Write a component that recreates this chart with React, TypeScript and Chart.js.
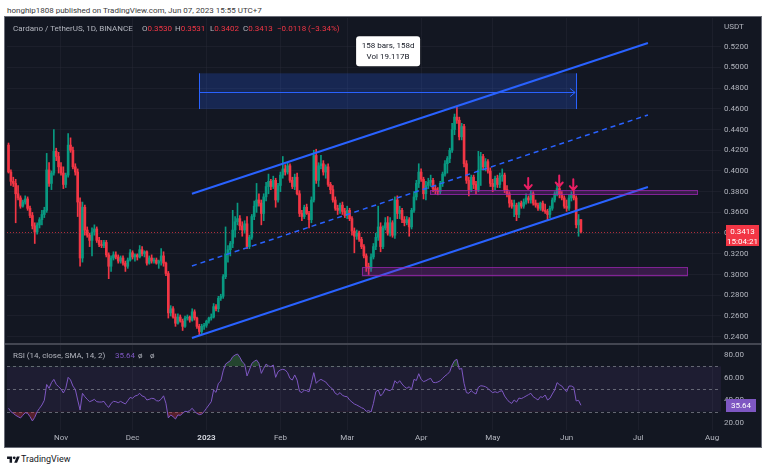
import React, { useEffect, useRef } from 'react';
import { Chart, registerables } from 'chart.js';

Chart.register(...registerables);

// Day numbers count from 2022-10-01 (= day 0). First candle: 2022-10-10 (day 9), last: 2023-06-07 (day 249).
const FIRST_DAY = 9;

const OPEN = [
  0.425, 0.399, 0.390, 0.388, 0.378, 0.374, 0.366, 0.370, 0.373, 0.364,
  0.357, 0.347, 0.341, 0.348, 0.353, 0.358, 0.362, 0.401, 0.388, 0.398,
  0.419, 0.414, 0.404, 0.398, 0.387, 0.396, 0.425, 0.420, 0.404, 0.399,
  0.370, 0.316, 0.365, 0.343, 0.338, 0.333, 0.341, 0.344, 0.333, 0.329,
  0.328, 0.331, 0.319, 0.308, 0.316, 0.319, 0.317, 0.313, 0.316, 0.311,
  0.308, 0.314, 0.321, 0.317, 0.319, 0.317, 0.324, 0.320, 0.322, 0.311,
  0.316, 0.313, 0.314, 0.311, 0.313, 0.318, 0.311, 0.301, 0.263, 0.267,
  0.259, 0.253, 0.259, 0.255, 0.250, 0.258, 0.259, 0.256, 0.264, 0.258,
  0.250, 0.245, 0.250, 0.251, 0.255, 0.258, 0.259, 0.269, 0.267, 0.277,
  0.279, 0.298, 0.320, 0.324, 0.330, 0.343, 0.351, 0.354, 0.347, 0.343,
  0.349, 0.327, 0.336, 0.356, 0.366, 0.372, 0.369, 0.359, 0.375, 0.385,
  0.390, 0.385, 0.391, 0.372, 0.386, 0.396, 0.402, 0.399, 0.405, 0.391,
  0.385, 0.394, 0.378, 0.359, 0.356, 0.365, 0.359, 0.353, 0.372, 0.415,
  0.391, 0.405, 0.407, 0.399, 0.404, 0.387, 0.382, 0.372, 0.364, 0.362,
  0.367, 0.361, 0.357, 0.362, 0.354, 0.342, 0.337, 0.340, 0.334, 0.327,
  0.318, 0.308, 0.306, 0.317, 0.327, 0.336, 0.346, 0.327, 0.345, 0.350,
  0.340, 0.350, 0.338, 0.372, 0.359, 0.362, 0.353, 0.350, 0.353, 0.346,
  0.362, 0.375, 0.388, 0.399, 0.392, 0.378, 0.386, 0.389, 0.391, 0.383,
  0.381, 0.380, 0.388, 0.397, 0.407, 0.412, 0.420, 0.440, 0.452, 0.449,
  0.433, 0.443, 0.407, 0.391, 0.382, 0.394, 0.387, 0.382, 0.401, 0.414,
  0.404, 0.409, 0.400, 0.388, 0.385, 0.393, 0.387, 0.395, 0.396, 0.382,
  0.378, 0.369, 0.366, 0.367, 0.358, 0.369, 0.366, 0.370, 0.374, 0.372,
  0.378, 0.369, 0.367, 0.364, 0.369, 0.362, 0.361, 0.358, 0.364, 0.372,
  0.378, 0.383, 0.377, 0.374, 0.366, 0.364, 0.374, 0.377, 0.374, 0.348, 0.3530,
];

const HIGH = [
  0.427, 0.401, 0.394, 0.392, 0.386, 0.376, 0.372, 0.376, 0.375, 0.366,
  0.360, 0.350, 0.350, 0.355, 0.362, 0.365, 0.417, 0.408, 0.400, 0.440,
  0.422, 0.418, 0.408, 0.404, 0.398, 0.436, 0.432, 0.423, 0.407, 0.402,
  0.374, 0.370, 0.367, 0.346, 0.340, 0.345, 0.348, 0.346, 0.336, 0.333,
  0.333, 0.333, 0.321, 0.318, 0.322, 0.322, 0.319, 0.318, 0.318, 0.313,
  0.316, 0.324, 0.323, 0.320, 0.320, 0.328, 0.327, 0.323, 0.323, 0.318,
  0.319, 0.316, 0.316, 0.314, 0.325, 0.322, 0.312, 0.303, 0.270, 0.269,
  0.262, 0.262, 0.261, 0.257, 0.260, 0.261, 0.260, 0.267, 0.266, 0.259,
  0.252, 0.252, 0.253, 0.256, 0.259, 0.262, 0.272, 0.271, 0.279, 0.281,
  0.300, 0.346, 0.328, 0.332, 0.362, 0.356, 0.369, 0.357, 0.351, 0.352,
  0.356, 0.338, 0.358, 0.371, 0.388, 0.378, 0.372, 0.378, 0.389, 0.397,
  0.392, 0.395, 0.393, 0.388, 0.399, 0.414, 0.406, 0.408, 0.407, 0.394,
  0.397, 0.398, 0.381, 0.362, 0.367, 0.368, 0.361, 0.375, 0.420, 0.421,
  0.408, 0.415, 0.410, 0.406, 0.407, 0.389, 0.386, 0.375, 0.367, 0.369,
  0.370, 0.364, 0.366, 0.364, 0.356, 0.345, 0.343, 0.342, 0.336, 0.329,
  0.320, 0.311, 0.320, 0.330, 0.340, 0.366, 0.350, 0.347, 0.355, 0.356,
  0.355, 0.352, 0.375, 0.376, 0.366, 0.364, 0.356, 0.356, 0.355, 0.364,
  0.380, 0.391, 0.407, 0.402, 0.394, 0.390, 0.393, 0.396, 0.393, 0.386,
  0.384, 0.390, 0.399, 0.410, 0.414, 0.422, 0.446, 0.455, 0.462, 0.452,
  0.446, 0.445, 0.410, 0.394, 0.396, 0.396, 0.390, 0.419, 0.418, 0.416,
  0.412, 0.411, 0.403, 0.392, 0.395, 0.396, 0.398, 0.402, 0.398, 0.386,
  0.380, 0.372, 0.372, 0.369, 0.370, 0.371, 0.373, 0.378, 0.376, 0.381,
  0.380, 0.372, 0.369, 0.370, 0.371, 0.368, 0.363, 0.366, 0.374, 0.380,
  0.388, 0.386, 0.380, 0.376, 0.372, 0.377, 0.380, 0.381, 0.376, 0.358, 0.3531,
];

const LOW = [
  0.398, 0.386, 0.385, 0.350, 0.372, 0.364, 0.365, 0.368, 0.362, 0.355,
  0.344, 0.330, 0.339, 0.345, 0.348, 0.355, 0.360, 0.385, 0.382, 0.396,
  0.410, 0.398, 0.396, 0.383, 0.384, 0.394, 0.418, 0.402, 0.396, 0.356,
  0.308, 0.312, 0.338, 0.336, 0.327, 0.318, 0.338, 0.331, 0.327, 0.326,
  0.326, 0.317, 0.296, 0.303, 0.314, 0.315, 0.311, 0.311, 0.309, 0.303,
  0.306, 0.313, 0.315, 0.313, 0.314, 0.316, 0.318, 0.317, 0.309, 0.310,
  0.311, 0.311, 0.310, 0.306, 0.309, 0.308, 0.299, 0.258, 0.260, 0.258,
  0.250, 0.252, 0.254, 0.246, 0.249, 0.256, 0.254, 0.255, 0.256, 0.248,
  0.241, 0.243, 0.247, 0.249, 0.253, 0.256, 0.258, 0.265, 0.264, 0.275,
  0.277, 0.296, 0.312, 0.318, 0.326, 0.336, 0.348, 0.343, 0.337, 0.340,
  0.325, 0.325, 0.334, 0.353, 0.360, 0.366, 0.348, 0.352, 0.371, 0.378,
  0.382, 0.383, 0.365, 0.370, 0.380, 0.393, 0.396, 0.397, 0.389, 0.383,
  0.382, 0.377, 0.356, 0.352, 0.354, 0.358, 0.345, 0.350, 0.370, 0.388,
  0.385, 0.402, 0.396, 0.393, 0.385, 0.378, 0.370, 0.362, 0.358, 0.359,
  0.358, 0.355, 0.354, 0.352, 0.338, 0.321, 0.334, 0.332, 0.325, 0.316,
  0.303, 0.300, 0.303, 0.315, 0.324, 0.333, 0.322, 0.325, 0.343, 0.338,
  0.337, 0.336, 0.335, 0.354, 0.354, 0.350, 0.347, 0.348, 0.337, 0.344,
  0.360, 0.372, 0.384, 0.390, 0.373, 0.372, 0.383, 0.385, 0.380, 0.378,
  0.377, 0.378, 0.385, 0.395, 0.398, 0.408, 0.418, 0.435, 0.446, 0.430,
  0.430, 0.404, 0.388, 0.376, 0.380, 0.383, 0.378, 0.380, 0.386, 0.401,
  0.400, 0.398, 0.385, 0.380, 0.382, 0.384, 0.384, 0.390, 0.379, 0.375,
  0.365, 0.364, 0.356, 0.352, 0.355, 0.364, 0.364, 0.368, 0.369, 0.369,
  0.367, 0.365, 0.362, 0.362, 0.361, 0.359, 0.353, 0.355, 0.362, 0.370,
  0.376, 0.374, 0.372, 0.364, 0.361, 0.362, 0.371, 0.372, 0.345, 0.337, 0.3402,
];

const CLOSE = [
  0.399, 0.390, 0.388, 0.378, 0.374, 0.366, 0.370, 0.373, 0.364, 0.357,
  0.347, 0.341, 0.348, 0.353, 0.358, 0.362, 0.401, 0.388, 0.398, 0.419,
  0.414, 0.404, 0.398, 0.387, 0.396, 0.425, 0.420, 0.404, 0.399, 0.370,
  0.316, 0.365, 0.343, 0.338, 0.333, 0.341, 0.344, 0.333, 0.329, 0.328,
  0.331, 0.319, 0.308, 0.316, 0.319, 0.317, 0.313, 0.316, 0.311, 0.308,
  0.314, 0.321, 0.317, 0.319, 0.317, 0.324, 0.320, 0.322, 0.311, 0.316,
  0.313, 0.314, 0.311, 0.313, 0.318, 0.311, 0.301, 0.263, 0.267, 0.259,
  0.253, 0.259, 0.255, 0.250, 0.258, 0.259, 0.256, 0.264, 0.258, 0.250,
  0.245, 0.250, 0.251, 0.255, 0.258, 0.259, 0.269, 0.267, 0.277, 0.279,
  0.298, 0.320, 0.324, 0.330, 0.343, 0.351, 0.354, 0.347, 0.343, 0.349,
  0.327, 0.336, 0.356, 0.366, 0.372, 0.369, 0.359, 0.375, 0.385, 0.390,
  0.385, 0.391, 0.372, 0.386, 0.396, 0.402, 0.399, 0.405, 0.391, 0.385,
  0.394, 0.378, 0.359, 0.356, 0.365, 0.359, 0.353, 0.372, 0.415, 0.391,
  0.405, 0.407, 0.399, 0.404, 0.387, 0.382, 0.372, 0.364, 0.362, 0.367,
  0.361, 0.357, 0.362, 0.354, 0.342, 0.337, 0.340, 0.334, 0.327, 0.318,
  0.308, 0.306, 0.317, 0.327, 0.336, 0.346, 0.327, 0.345, 0.350, 0.340,
  0.350, 0.338, 0.372, 0.359, 0.362, 0.353, 0.350, 0.353, 0.346, 0.362,
  0.375, 0.388, 0.399, 0.392, 0.378, 0.386, 0.389, 0.391, 0.383, 0.381,
  0.380, 0.388, 0.397, 0.407, 0.412, 0.420, 0.440, 0.452, 0.449, 0.433,
  0.443, 0.407, 0.391, 0.382, 0.394, 0.387, 0.382, 0.401, 0.414, 0.404,
  0.409, 0.400, 0.388, 0.385, 0.393, 0.387, 0.395, 0.396, 0.382, 0.378,
  0.369, 0.366, 0.367, 0.358, 0.369, 0.366, 0.370, 0.374, 0.372, 0.378,
  0.369, 0.367, 0.364, 0.369, 0.362, 0.361, 0.358, 0.364, 0.372, 0.378,
  0.383, 0.377, 0.374, 0.366, 0.364, 0.374, 0.377, 0.374, 0.348, 0.353, 0.3413,
];

const RSI = [
  33, 30, 28.5, 26.8, 25.6, 24.4, 26.8, 29.1, 28.5, 25.6,
  21.8, 25, 30, 33, 35.9, 40, 54, 50.6, 55.6, 58.5,
  54.1, 52, 50, 46.5, 50.6, 60.3, 58, 52.6, 49.7, 40.3,
  31.5, 46.2, 43.2, 40.9, 38.8, 39.7, 40.9, 38.8, 38.5, 38.5,
  39.1, 35.9, 33.8, 37.3, 39.1, 38.8, 37.9, 39.1, 37.9, 36.8,
  39.7, 42.6, 41.8, 43.8, 44.4, 46.2, 43.8, 43.2, 40.3, 40.9,
  41.8, 41.5, 39.7, 39.4, 41, 44, 37.4, 24.5, 27.1, 25.6,
  23.5, 27.1, 26.8, 28.5, 30.3, 30, 30.9, 33, 30.3, 28.5,
  27.4, 27.9, 30, 33, 35.9, 38.8, 49.1, 47, 55, 57,
  66, 72, 73.5, 75, 78.5, 80, 80.9, 78, 74, 72,
  61.5, 66.8, 72.6, 74.4, 75.6, 72.6, 63.8, 68.2, 72, 70.3,
  69.7, 71.2, 60.3, 65.3, 66.8, 67.4, 66.8, 64.4, 59.4, 57.9,
  62.4, 57.9, 48, 46.8, 49.1, 48.5, 47.5, 55.6, 64.4, 55,
  57.3, 58.5, 57.3, 56.2, 53.5, 51.5, 49.7, 46.2, 45, 46.8,
  44.4, 43.5, 43.2, 40.3, 38.5, 36.8, 35.9, 34.7, 33.5, 32.6,
  30.3, 30.9, 29.7, 37.3, 47.6, 49.1, 43.8, 46.2, 50.3, 49.1,
  48.5, 50.6, 57.3, 55, 57.3, 54.4, 52, 50.6, 52, 49.7,
  58.5, 57.5, 63.5, 58.5, 56.5, 57.3, 58.5, 59.4, 55.9, 55.6,
  56.2, 57.3, 59.4, 61.5, 63, 65.3, 71.2, 75, 76.2, 67.4,
  68.2, 55, 46.8, 46.2, 48.5, 46.8, 45.6, 51.5, 52.9, 52.6,
  52, 50.6, 48.5, 46.8, 47.6, 46.8, 48, 48.5, 43.8, 40.9,
  38.5, 37.3, 40.3, 38.5, 42, 41.5, 42.6, 43.8, 45, 46.2,
  43.2, 41.8, 40.3, 43.2, 42.6, 44.7, 40.3, 41.8, 45.6, 49.1,
  55.6, 53.8, 52.6, 49.7, 47.6, 52.6, 52.6, 51.5, 39.5, 40, 35.64,
];

const MONTH_DAYS = [31, 61, 92, 123, 151, 182, 212, 243, 273, 304];
const MONTH_LABELS = ['Nov', 'Dec', '2023', 'Feb', 'Mar', 'Apr', 'May', 'Jun', 'Jul', 'Aug'];
const PRICE_TICKS = [0.24, 0.26, 0.28, 0.30, 0.32, 0.34, 0.36, 0.38, 0.40, 0.42, 0.44, 0.46, 0.48, 0.50, 0.52];
const RSI_TICKS = [20, 40, 60, 80];

// Drawings (day, price)
const CHANNEL_DAYS = [85.9, 277.1];
const CHANNEL_UPPER = [0.378, 0.5236];
const CHANNEL_MIDDLE = [0.3083, 0.4541];
const CHANNEL_LOWER = [0.2387, 0.3845];

const ZONE_UPPER_DAYS = [185.7, 298.1];
const ZONE_UPPER_PRICES = [0.3816, 0.3768];
const ZONE_LOWER_DAYS = [157.1, 293.9];
const ZONE_LOWER_PRICES = [0.3070, 0.2979];

const RANGE_DAYS = [88.9, 247.4];
const RANGE_PRICES = [0.4943, 0.4598];
const RANGE_ARROW_PRICE = 0.4765;
const RANGE_LABEL = ['158 bars, 158d', 'Vol 19.117B'];

const ARROW_DAYS = [226.9, 239.9, 245.8];
const ARROW_TIPS = [0.3825, 0.3850, 0.3815];

const LAST_PRICE = 0.3413;
const LAST_TIMER = '15:04:21';
const LAST_RSI = 35.64;

const X_RANGE = [8.36, 307.73];
const PRICE_RANGE = [0.23295, 0.54771];
const RSI_RANGE = [13.83, 89.71];

const UP = '#089981';
const DOWN = '#f23645';
const BLUE = '#2962ff';
const PURPLE = '#7e57c2';
const TEXT = '#b2b5be';
const FONT = 'Roboto, sans-serif';

const tvPlugin: any = {
  id: 'tvDrawings',
  beforeDatasetsDraw(chart: any) {
    const { ctx, chartArea: a } = chart;
    const ys = chart.scales.y;
    const rs = chart.scales.rsi;
    ctx.save();
    const y70 = rs.getPixelForValue(70);
    const y30 = rs.getPixelForValue(30);
    ctx.fillStyle = 'rgba(126,87,194,0.1)';
    ctx.fillRect(a.left, y70, a.right - a.left, y30 - y70);
    ctx.strokeStyle = 'rgba(120,123,134,0.8)';
    ctx.lineWidth = 1;
    ctx.setLineDash([3, 3]);
    [70, 50, 30].forEach((v) => {
      const y = Math.round(rs.getPixelForValue(v)) + 0.5;
      ctx.beginPath();
      ctx.moveTo(a.left, y);
      ctx.lineTo(a.right, y);
      ctx.stroke();
    });
    const py = Math.round(ys.getPixelForValue(LAST_PRICE)) + 0.5;
    ctx.strokeStyle = 'rgba(242,54,69,0.7)';
    ctx.setLineDash([1, 2]);
    ctx.beginPath();
    ctx.moveTo(a.left, py);
    ctx.lineTo(a.right, py);
    ctx.stroke();
    ctx.restore();
  },
  afterDatasetsDraw(chart: any) {
    const { ctx, chartArea: a } = chart;
    const xs = chart.scales.x;
    const ys = chart.scales.y;
    ctx.save();
    ctx.beginPath();
    ctx.rect(a.left, a.top, a.right - a.left, ys.bottom - a.top);
    ctx.clip();

    const zone = (days: number[], prices: number[]) => {
      const x0 = xs.getPixelForValue(days[0]);
      const x1 = xs.getPixelForValue(days[1]);
      const y0 = ys.getPixelForValue(prices[0]);
      const y1 = ys.getPixelForValue(prices[1]);
      ctx.fillStyle = 'rgba(156,39,176,0.28)';
      ctx.fillRect(x0, y0, x1 - x0, y1 - y0);
      ctx.strokeStyle = 'rgba(156,39,176,0.75)';
      ctx.lineWidth = 1;
      ctx.strokeRect(Math.round(x0) + 0.5, Math.round(y0) + 0.5, Math.round(x1 - x0) - 1, Math.round(y1 - y0) - 1);
    };
    zone(ZONE_UPPER_DAYS, ZONE_UPPER_PRICES);
    zone(ZONE_LOWER_DAYS, ZONE_LOWER_PRICES);

    // date range tool
    const rx0 = xs.getPixelForValue(RANGE_DAYS[0]);
    const rx1 = xs.getPixelForValue(RANGE_DAYS[1]);
    const ry0 = ys.getPixelForValue(RANGE_PRICES[0]);
    const ry1 = ys.getPixelForValue(RANGE_PRICES[1]);
    const ray = Math.round(ys.getPixelForValue(RANGE_ARROW_PRICE)) + 0.5;
    ctx.fillStyle = 'rgba(41,98,255,0.22)';
    ctx.fillRect(rx0, ry0, rx1 - rx0, ry1 - ry0);
    ctx.strokeStyle = BLUE;
    ctx.lineWidth = 1;
    ctx.beginPath();
    ctx.moveTo(Math.round(rx0) + 0.5, ry0);
    ctx.lineTo(Math.round(rx0) + 0.5, ry1);
    ctx.moveTo(Math.round(rx1) - 0.5, ry0);
    ctx.lineTo(Math.round(rx1) - 0.5, ry1);
    ctx.moveTo(rx0, ray);
    ctx.lineTo(rx1 - 2, ray);
    ctx.moveTo(rx1 - 7, ray - 4);
    ctx.lineTo(rx1 - 2, ray);
    ctx.lineTo(rx1 - 7, ray + 4);
    ctx.stroke();

    // label of date range
    const cx = (rx0 + rx1) / 2;
    const bw = 64;
    const bh = 30;
    const bx = cx - bw / 2;
    const by = ry0 - 7 - bh;
    ctx.shadowColor = 'rgba(0,0,0,0.3)';
    ctx.shadowBlur = 3;
    ctx.fillStyle = '#ffffff';
    ctx.beginPath();
    ctx.roundRect(bx, by, bw, bh, 3);
    ctx.fill();
    ctx.shadowBlur = 0;
    ctx.fillStyle = '#131722';
    ctx.font = '8px ' + FONT;
    ctx.textAlign = 'center';
    ctx.textBaseline = 'middle';
    ctx.fillText(RANGE_LABEL[0], cx, by + 9.5);
    ctx.fillText(RANGE_LABEL[1], cx, by + 21);

    // arrow markers
    ctx.strokeStyle = '#e91e63';
    ctx.lineWidth = 2;
    ctx.lineCap = 'round';
    ctx.lineJoin = 'round';
    ARROW_DAYS.forEach((d, i) => {
      const x = xs.getPixelForValue(d);
      const tip = ys.getPixelForValue(ARROW_TIPS[i]);
      ctx.beginPath();
      ctx.moveTo(x, tip - 11);
      ctx.lineTo(x, tip);
      ctx.moveTo(x - 3.5, tip - 4);
      ctx.lineTo(x, tip);
      ctx.lineTo(x + 3.5, tip - 4);
      ctx.stroke();
    });
    ctx.restore();
  },
  afterDraw(chart: any) {
    const { ctx } = chart;
    const ys = chart.scales.y;
    const rs = chart.scales.rsi;
    ctx.save();
    ctx.fillStyle = '#434651';
    ctx.fillRect(0, Math.round(rs.top) - 1, chart.width, 2);

    const left = ys.left + 5;
    const py = ys.getPixelForValue(LAST_PRICE);
    ctx.fillStyle = DOWN;
    ctx.fillRect(left, Math.round(py - 6.5), chart.width - 2 - left, 21);
    ctx.fillStyle = '#ffffff';
    ctx.font = '8px ' + FONT;
    ctx.textAlign = 'center';
    ctx.textBaseline = 'middle';
    const cx = (left + chart.width - 2) / 2;
    ctx.fillText(LAST_PRICE.toFixed(4), cx, py + 0.5);
    ctx.fillText(LAST_TIMER, cx, py + 10);

    const ry = rs.getPixelForValue(LAST_RSI);
    ctx.fillStyle = PURPLE;
    ctx.fillRect(left, Math.round(ry - 6.5), 30, 13);
    ctx.fillStyle = '#ffffff';
    ctx.fillText(LAST_RSI.toFixed(2), left + 15, ry + 0.5);
    ctx.restore();
  },
};

function buildConfig(): any {
  const days = OPEN.map((_, i) => FIRST_DAY + i);
  const colors = OPEN.map((o, i) => (CLOSE[i] >= o ? UP : DOWN));
  const line = (vals: number[], dash: number[], width: number) => ({
    type: 'line',
    data: CHANNEL_DAYS.map((d, i) => ({ x: d, y: vals[i] })),
    borderColor: BLUE,
    borderWidth: width,
    borderDash: dash,
    pointRadius: 0,
    fill: false,
    yAxisID: 'y',
    order: 1,
  });
  const rsiPoints = RSI.map((v, i) => ({ x: days[i], y: v }));
  return {
    type: 'bar',
    data: {
      datasets: [
        line(CHANNEL_UPPER, [], 2),
        line(CHANNEL_LOWER, [], 2),
        line(CHANNEL_MIDDLE, [5, 4], 1.5),
        {
          type: 'line',
          data: rsiPoints,
          yAxisID: 'rsi',
          borderColor: PURPLE,
          borderWidth: 1,
          pointRadius: 0,
          tension: 0,
          fill: { target: { value: 70 }, above: 'rgba(76,175,80,0.3)', below: 'rgba(0,0,0,0)' },
          order: 2,
        },
        {
          type: 'line',
          data: rsiPoints,
          yAxisID: 'rsi',
          borderColor: 'rgba(0,0,0,0)',
          borderWidth: 0,
          pointRadius: 0,
          fill: { target: { value: 30 }, above: 'rgba(0,0,0,0)', below: 'rgba(242,54,69,0.3)' },
          order: 3,
        },
        {
          type: 'bar',
          data: days.map((d, i) => ({ x: d, y: [OPEN[i], CLOSE[i]] })),
          backgroundColor: colors,
          borderWidth: 0,
          barThickness: 2,
          grouped: false,
          yAxisID: 'y',
          order: 4,
        },
        {
          type: 'bar',
          data: days.map((d, i) => ({ x: d, y: [LOW[i], HIGH[i]] })),
          backgroundColor: colors,
          borderWidth: 0,
          barThickness: 1,
          grouped: false,
          yAxisID: 'y',
          order: 5,
        },
      ],
    },
    options: {
      animation: false,
      responsive: false,
      events: [],
      layout: { padding: { left: 2, top: 1, right: 0, bottom: 0 } },
      plugins: { legend: { display: false }, tooltip: { enabled: false } },
      scales: {
        x: {
          type: 'linear',
          position: 'bottom',
          min: X_RANGE[0],
          max: X_RANGE[1],
          offset: false,
          grid: { color: 'rgba(42,46,57,0.4)', drawTicks: false, offset: false },
          border: { display: false },
          afterBuildTicks: (s: any) => {
            s.ticks = MONTH_DAYS.map((v) => ({ value: v }));
          },
          afterFit: (s: any) => {
            s.height = 17;
            s.paddingLeft = 0;
            s.paddingRight = 0;
          },
          ticks: {
            autoSkip: false,
            maxRotation: 0,
            padding: 3,
            color: (c: any) => (c.tick && c.tick.value === 92 ? '#d1d4dc' : TEXT),
            font: (c: any) => ({ family: FONT, size: 8, weight: c.tick && c.tick.value === 92 ? 'bold' : 'normal' }),
            callback: (v: any) => MONTH_LABELS[MONTH_DAYS.indexOf(Number(v))] ?? '',
          },
        },
        y: {
          type: 'linear',
          axis: 'y',
          position: 'right',
          stack: 'panes',
          stackWeight: 326,
          weight: 0,
          min: PRICE_RANGE[0],
          max: PRICE_RANGE[1],
          grid: { color: 'rgba(42,46,57,0.4)', drawTicks: false },
          border: { display: false },
          afterBuildTicks: (s: any) => {
            s.ticks = PRICE_TICKS.map((v) => ({ value: v }));
          },
          afterFit: (s: any) => {
            s.width = 40;
            s.paddingTop = 0;
            s.paddingBottom = 0;
          },
          ticks: {
            autoSkip: false,
            padding: 3,
            color: TEXT,
            font: { family: FONT, size: 8 },
            callback: (v: any) => Number(v).toFixed(4),
          },
        },
        rsi: {
          type: 'linear',
          axis: 'y',
          position: 'right',
          stack: 'panes',
          stackWeight: 86,
          weight: 1,
          min: RSI_RANGE[0],
          max: RSI_RANGE[1],
          grid: { display: false, drawTicks: false },
          border: { display: false },
          afterBuildTicks: (s: any) => {
            s.ticks = RSI_TICKS.map((v) => ({ value: v }));
          },
          afterFit: (s: any) => {
            s.width = 40;
            s.paddingTop = 0;
            s.paddingBottom = 0;
          },
          ticks: {
            autoSkip: false,
            padding: 3,
            color: TEXT,
            font: { family: FONT, size: 8 },
            callback: (v: any) => Number(v).toFixed(2),
          },
        },
      },
    },
    plugins: [tvPlugin],
  };
}

const txt: any = { position: 'absolute', fontSize: 8, lineHeight: '10px', whiteSpace: 'nowrap', fontFamily: FONT };

export default function App() {
  const ref = useRef<HTMLCanvasElement>(null);
  useEffect(() => {
    const chart = new Chart(ref.current as HTMLCanvasElement, buildConfig());
    return () => chart.destroy();
  }, []);
  const red = { color: DOWN };
  const gray = { color: TEXT };
  return (
    <div style={{ position: 'fixed', left: 0, top: 0, width: 768, height: 470, background: '#ffffff', overflow: 'hidden', fontFamily: FONT }}>
      <div style={{ ...txt, left: 7, top: 6, color: '#3a3a3a' }}>honghip1808 published on TradingView.com, Jun 07, 2023 15:55 UTC+7</div>
      <div style={{ position: 'absolute', left: 4, top: 16, width: 756, height: 430, border: '1px solid #6a6d78', background: '#131722' }}>
        <canvas ref={ref} width={756} height={430} style={{ display: 'block', width: 756, height: 430 }} />
        <div style={{ ...txt, left: 8, top: 7, ...gray }}>Cardano / TetherUS, 1D, BINANCE</div>
        <div style={{ ...txt, left: 137, top: 7, ...gray }}>O<span style={red}>0.3530</span></div>
        <div style={{ ...txt, left: 170, top: 7, ...gray }}>H<span style={red}>0.3531</span></div>
        <div style={{ ...txt, left: 205, top: 7, ...gray }}>L<span style={red}>0.3402</span></div>
        <div style={{ ...txt, left: 238, top: 7, ...gray }}>C<span style={red}>0.3413</span></div>
        <div style={{ ...txt, left: 272, top: 7, ...red }}>−0.0118</div>
        <div style={{ ...txt, left: 303, top: 7, ...red }}>(−3.34%)</div>
        <div style={{ ...txt, left: 719, top: 5, ...gray }}>USDT</div>
        <div style={{ ...txt, left: 8, top: 334, ...gray }}>RSI (14, close, SMA, 14, 2)</div>
        <div style={{ ...txt, left: 110, top: 334, color: PURPLE }}>35.64</div>
        <div style={{ ...txt, left: 133, top: 334, ...gray }}>ø</div>
        <div style={{ ...txt, left: 145, top: 334, ...gray }}>ø</div>
      </div>
      <svg style={{ position: 'absolute', left: 7, top: 455 }} width="13" height="10" viewBox="0 0 36 28">
        <path d="M14 22H7V11H0V4h14v18zM28 22h-8l7.5-18h8L28 22z" fill="#131722" />
        <circle cx="20" cy="8" r="4" fill="#131722" />
      </svg>
      <div style={{ ...txt, left: 21, top: 454, fontSize: 9, color: '#131722' }}>TradingView</div>
    </div>
  );
}
